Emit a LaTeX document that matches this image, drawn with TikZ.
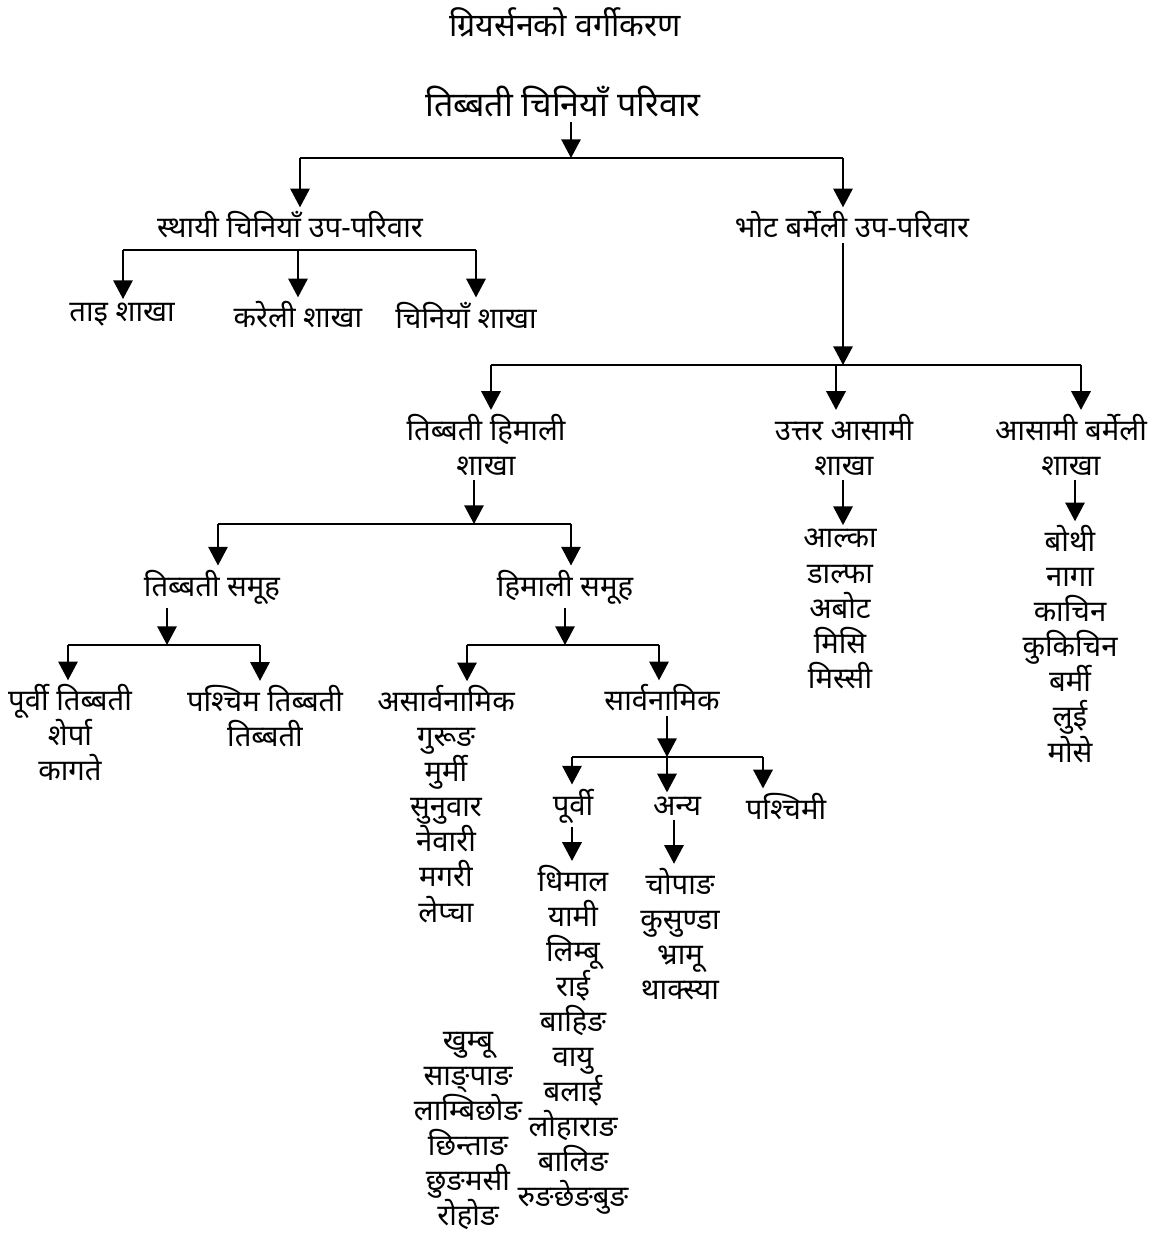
\documentclass[tikz,border=0pt]{standalone}
\usepackage{fontspec}
\usepackage{tikz}
\usetikzlibrary{arrows.meta}
\newfontfamily\deva[Script=Devanagari]{Noto Sans}
\newcommand\bodyfont{\deva\fontsize{25}{29.9}\selectfont\lineskiplimit=-40pt\relax}

\begin{document}
\begin{tikzpicture}[x=0.03cm, y=-0.03cm,
    every node/.style={font=\bodyfont, align=center, inner sep=3.5pt},
    big/.style={font=\deva\fontsize{29}{34}\selectfont},
    head/.style={font=\deva\fontsize{27.5}{32}\selectfont},
    arr/.style={-{Triangle[width=16.5pt,length=16pt]}, line width=1.8pt},
    bar/.style={line width=1.8pt}]
          \useasboundingbox (0,0) rectangle (1166,1234);

          \node[head] (title) at (565,22) {ग्रियर्सनको वर्गीकरण};
          \node[big] (root) at (563,102) {तिब्बती चिनियाँ परिवार};

          \node (sthayi) at (290,225) {स्थायी चिनियाँ उप-परिवार};
          \node (bhot) at (852,225) {भोट बर्मेली उप-परिवार};

          \node (tai) at (122,315) {ताइ शाखा};
          \node (kareli) at (298,315) {करेली शाखा};
          \node (chiniya) at (466,315) {चिनियाँ शाखा};

          \node (tibhim) at (486,445) {तिब्बती हिमाली\\शाखा};
          \node (uttar) at (844,445) {उत्तर आसामी\\शाखा};
          \node (asami) at (1071,445) {आसामी बर्मेली\\शाखा};
          \node (uttarlist) at (840,609) {आल्का\\डाल्फा\\अबोट\\मिसि\\मिस्सी};
          \node (asamilist) at (1070,644) {बोथी\\नागा\\काचिन\\कुकिचिन\\बर्मी\\लुई\\मोसे};

          \node (tibsam) at (212,587) {तिब्बती समूह};
          \node (himsam) at (565,587) {हिमाली समूह};
          \node (purvtib) at (70,733) {पूर्वी तिब्बती\\शेर्पा\\कागते};
          \node (pashtib) at (265,716) {पश्चिम तिब्बती\\तिब्बती};

          \node (asarv) at (446,804) {असार्वनामिक\\गुरूङ\\मुर्मी\\सुनुवार\\नेवारी\\मगरी\\लेप्चा};
          \node (sarv) at (662,698) {सार्वनामिक};
          \node (purvi) at (573,806) {पूर्वी};
          \node (anya) at (677,806) {अन्य};
          \node (pashchimi) at (786,806) {पश्चिमी};
          \node (purvilist) at (573,1040) {धिमाल\\यामी\\लिम्बू\\राई\\बाहिङ\\वायु\\बलाई\\लोहाराङ\\बालिङ\\रुङछेङबुङ};
          \node (anyalist) at (680,934) {चोपाङ\\कुसुण्डा\\भ्रामू\\थाक्स्या};
          \node (khumbu) at (468,1131) {खुम्बू\\साङ्पाङ\\लाम्बिछोङ\\छिन्ताङ\\छुङमसी\\रोहोङ};

          \coordinate (jroot) at (571,158);
          \coordinate (jrootL) at (300,158);
          \coordinate (jrootR) at (843,158);
          \draw[arr] (root.south -| jroot) -- (jroot);
          \draw[bar] (jrootL) -- (jrootR);
          \draw[arr] (jrootL) -- (jrootL |- sthayi.north);
          \draw[arr] (jrootR) -- (jrootR |- bhot.north);

          \coordinate (jsthL) at (123,250);
          \coordinate (jsthM) at (298,250);
          \coordinate (jsthR) at (476,250);
          \draw[bar] (jsthL) -- (jsthR);
          \draw[arr] (jsthL) -- (jsthL |- tai.north);
          \draw[arr] (jsthM) -- (jsthM |- kareli.north);
          \draw[arr] (jsthR) -- (jsthR |- chiniya.north);

          \coordinate (jbhot) at (843,365);
          \coordinate (jbhotL) at (491,365);
          \coordinate (jbhotM) at (836,365);
          \coordinate (jbhotR) at (1081,365);
          \draw[arr] (bhot.south -| jbhot) -- (jbhot);
          \draw[bar] (jbhotL) -- (jbhotR);
          \draw[arr] (jbhotL) -- (jbhotL |- tibhim.north);
          \draw[arr] (jbhotM) -- (jbhotM |- uttar.north);
          \draw[arr] (jbhotR) -- (jbhotR |- asami.north);
          \coordinate (juttar) at (843,0);
          \coordinate (jasami) at (1075,0);
          \draw[arr] (uttar.south -| juttar) -- (juttar |- uttarlist.north);
          \draw[arr] (asami.south -| jasami) -- (jasami |- asamilist.north);

          \coordinate (jtib) at (474,524);
          \coordinate (jtibL) at (218,524);
          \coordinate (jtibR) at (571,524);
          \draw[arr] (tibhim.south -| jtib) -- (jtib);
          \draw[bar] (jtibL) -- (jtibR);
          \draw[arr] (jtibL) -- (jtibL |- tibsam.north);
          \draw[arr] (jtibR) -- (jtibR |- himsam.north);

          \coordinate (jtsam) at (167,645);
          \coordinate (jtsamL) at (68,645);
          \coordinate (jtsamR) at (260,645);
          \draw[arr] (tibsam.south -| jtsam) -- (jtsam);
          \draw[bar] (jtsamL) -- (jtsamR);
          \draw[arr] (jtsamL) -- (jtsamL |- purvtib.north);
          \draw[arr] (jtsamR) -- (jtsamR |- pashtib.north);

          \coordinate (jhsam) at (565,645);
          \coordinate (jhsamL) at (467,645);
          \coordinate (jhsamR) at (659,645);
          \draw[arr] (himsam.south -| jhsam) -- (jhsam);
          \draw[bar] (jhsamL) -- (jhsamR);
          \draw[arr] (jhsamL) -- (jhsamL |- asarv.north);
          \draw[arr] (jhsamR) -- (jhsamR |- sarv.north);

          \coordinate (jsarv) at (667,757);
          \coordinate (jsarvL) at (572,757);
          \coordinate (jsarvR) at (763,757);
          \draw[arr] (sarv.south -| jsarv) -- (jsarv);
          \draw[bar] (jsarvL) -- (jsarvR);
          \draw[arr] (jsarvL) -- (jsarvL |- purvi.north);
          \draw[arr] (jsarv) -- (jsarv |- anya.north);
          \draw[arr] (jsarvR) -- (jsarvR |- pashchimi.north);
          \coordinate (janya) at (674,0);
          \draw[arr] (purvi.south -| jsarvL) -- (jsarvL |- purvilist.north);
          \draw[arr] (anya.south -| janya) -- (janya |- anyalist.north);
        \end{tikzpicture}
\end{document}
